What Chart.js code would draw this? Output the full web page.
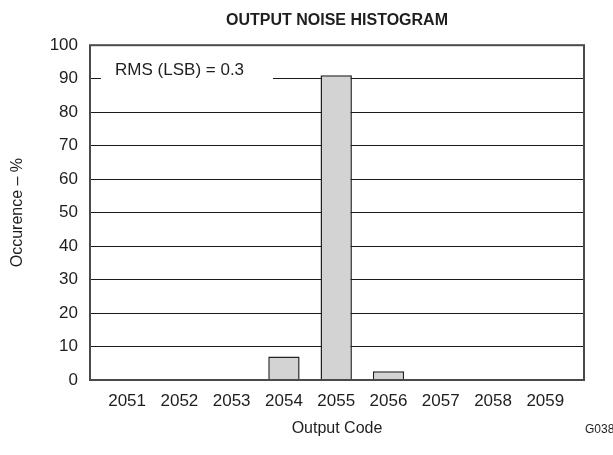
<!DOCTYPE html>
<html>
<head>
<meta charset="utf-8">
<title>Output Noise Histogram</title>
<script src="https://cdn.jsdelivr.net/npm/chart.js@4.4.1/dist/chart.umd.min.js"></script>
<style>
  html, body { margin: 0; padding: 0; background: #ffffff; }
  #wrap { width: 613px; height: 455px; }
</style>
</head>
<body>
<div id="wrap"><canvas id="chart" width="613" height="455"></canvas></div>
<script>
// Output noise histogram - occurrence per output code

const codes = [2051, 2052, 2053, 2054, 2055, 2056, 2057, 2058, 2059];
const occurrence = [0, 0, 0, 7, 91, 2.6, 0, 0, 0];
const yTicks = [0, 10, 20, 30, 40, 50, 60, 70, 80, 90, 100];

const chartTitle = 'OUTPUT NOISE HISTOGRAM';
const xTitle = 'Output Code';
const yTitle = 'Occurence – %';
const rmsLabel = 'RMS (LSB) = 0.3';
const figureId = 'G038';

const FONT = "'Liberation Sans', Arial, Helvetica, sans-serif";
const TEXT = '#1e1e1e';

// white label box sitting on the 90 % grid line, plus the plot frame
const rmsNote = {
  id: 'rmsNote',
  beforeDatasetsDraw(chart) {
    const x = chart.scales.x;
    const y = chart.scales.y;
    const ctx = chart.ctx;
    const x1 = x.getPixelForValue(2050.5);
    const x2 = x.getPixelForValue(2053.79);
    const yl = y.getPixelForValue(90);
    ctx.save();
    ctx.fillStyle = '#ffffff';
    ctx.fillRect(x1, yl - 2, x2 - x1, 4);
    ctx.fillStyle = TEXT;
    ctx.font = '17px ' + FONT;
    ctx.textAlign = 'left';
    ctx.textBaseline = 'middle';
    ctx.fillText(rmsLabel, x.getPixelForValue(2050.77), y.getPixelForValue(92.4));
    ctx.restore();
  },
  afterDraw(chart) {
    const a = chart.chartArea;
    const ctx = chart.ctx;
    ctx.save();
    ctx.strokeStyle = '#4a4a4a';
    ctx.lineWidth = 2;
    ctx.strokeRect(a.left, a.top, a.right - a.left, a.bottom - a.top);
    ctx.fillStyle = TEXT;
    ctx.font = '12px ' + FONT;
    ctx.textAlign = 'left';
    ctx.textBaseline = 'middle';
    ctx.fillText(figureId, a.right + 1, 430);
    ctx.restore();
  }
};

const ctx = document.getElementById('chart').getContext('2d');
new Chart(ctx, {
  type: 'bar',
  data: {
    datasets: [{
      data: codes.map((c, i) => ({ x: c, y: occurrence[i] })),
      backgroundColor: '#d3d3d3',
      borderColor: '#222222',
      borderWidth: 1.5,
      categoryPercentage: 1,
      barPercentage: 0.6
    }]
  },
  options: {
    responsive: false,
    animation: false,
    layout: { padding: { left: 0, right: 29, top: 0, bottom: 0 } },
    plugins: {
      legend: { display: false },
      tooltip: { enabled: false },
      title: {
        display: true,
        text: chartTitle,
        fullSize: false,
        color: TEXT,
        font: { family: FONT, size: 16, weight: 'bold' },
        padding: { top: 11, bottom: 15 }
      }
    },
    scales: {
      x: {
        type: 'linear',
        offset: false,
        min: 2050.29,
        max: 2059.74,
        afterBuildTicks: axis => { axis.ticks = codes.map(v => ({ value: v })); },
        afterFit: axis => { axis.height = 75; },
        grid: { display: false, drawTicks: false },
        border: { display: false },
        ticks: {
          color: TEXT,
          padding: 11,
          maxRotation: 0,
          autoSkip: false,
          font: { family: FONT, size: 17 },
          callback: v => String(v)
        },
        title: {
          display: true,
          text: xTitle,
          color: TEXT,
          font: { family: FONT, size: 16 },
          padding: { top: 0, bottom: 17 }
        }
      },
      y: {
        min: 0,
        max: 100,
        afterBuildTicks: axis => { axis.ticks = yTicks.map(v => ({ value: v })); },
        afterFit: axis => { axis.width = 90; },
        grid: { color: '#1a1a1a', lineWidth: 1, drawTicks: false },
        border: { display: false },
        ticks: {
          color: TEXT,
          padding: 12,
          font: { family: FONT, size: 17 }
        },
        title: {
          display: true,
          text: yTitle,
          color: TEXT,
          font: { family: FONT, size: 16 },
          padding: { top: 8, bottom: 0 }
        }
      }
    }
  },
  plugins: [rmsNote]
});
</script>
</body>
</html>
